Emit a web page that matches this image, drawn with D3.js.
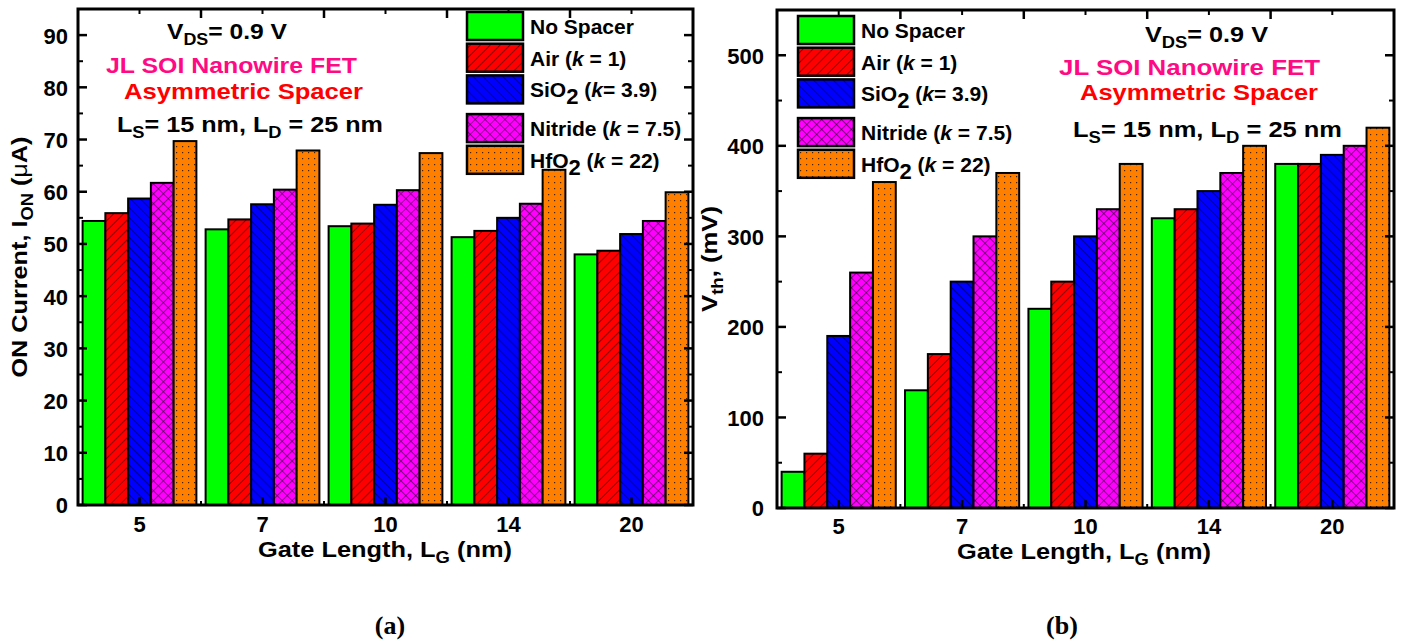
<!DOCTYPE html>
<html>
<head>
<meta charset="utf-8">
<script src="https://cdn.jsdelivr.net/npm/d3@7"></script>
<style>
  body { margin: 0; background: #fff; }
  svg { display: block; }
  text { font-family: "Liberation Sans", Arial, sans-serif; font-weight: bold; fill: #000; }
</style>
</head>
<body>
<svg id="fig" width="1408" height="643"></svg>
<script>
// Gate lengths (nm) on the category axis
const gateLengths = ["5", "7", "10", "14", "20"];

// Spacer materials (one bar per material in every group)
const spacerKeys = ["none", "air", "sio2", "nitride", "hfo2"];

// (a) ON current, µA
const ionNoSpacer = [54.4, 52.8, 53.4, 51.3, 48.0];
const ionAir      = [55.9, 54.7, 53.9, 52.5, 48.7];
const ionSiO2     = [58.7, 57.6, 57.5, 55.0, 51.9];
const ionNitride  = [61.7, 60.4, 60.3, 57.7, 54.4];
const ionHfO2     = [69.7, 67.9, 67.4, 64.2, 59.9];

// (b) threshold voltage, mV
const vthNoSpacer = [40, 130, 220, 320, 380];
const vthAir      = [60, 170, 250, 330, 380];
const vthSiO2     = [190, 250, 300, 350, 390];
const vthNitride  = [260, 300, 330, 370, 400];
const vthHfO2     = [360, 370, 380, 400, 420];

// Axis ticks
const ionTicks = [0, 10, 20, 30, 40, 50, 60, 70, 80, 90];
const vthTicks = [0, 100, 200, 300, 400, 500];

const svg = d3.select("#fig");
const defs = svg.append("defs");

// Fill styles: solid green, "/" hatch red, "\" hatch blue, cross hatch magenta, dotted orange
const fills = {
  none: "#00ff00",
  air: "#ff0000",
  sio2: "#0000ff",
  nitride: "#ff00ff",
  hfo2: "#ff8000"
};

function hatch(id, color, size, paths, angle) {
  const p = defs.append("pattern")
    .attr("id", id)
    .attr("patternUnits", "userSpaceOnUse")
    .attr("width", size).attr("height", size)
    .attr("patternTransform", `rotate(${angle})`);
  p.append("rect").attr("width", size).attr("height", size).attr("fill", color);
  paths.forEach(d => p.append("path").attr("d", d)
    .attr("stroke", "#000").attr("stroke-width", 0.9).attr("fill", "none"));
}
hatch("pat-air", fills.air, 7, ["M0,0 V7"], 45);
hatch("pat-sio2", fills.sio2, 7, ["M0,0 V7"], -45);
hatch("pat-nitride", fills.nitride, 7, ["M0,0 V7", "M0,0 H7"], 45);
{
  const p = defs.append("pattern")
    .attr("id", "pat-hfo2")
    .attr("patternUnits", "userSpaceOnUse")
    .attr("width", 6).attr("height", 6);
  p.append("rect").attr("width", 6).attr("height", 6).attr("fill", fills.hfo2);
  p.append("rect").attr("x", 2).attr("y", 2).attr("width", 1.2).attr("height", 1.2).attr("fill", "#4a2000");
}
const fillUrl = {
  none: fills.none,
  air: "url(#pat-air)",
  sio2: "url(#pat-sio2)",
  nitride: "url(#pat-nitride)",
  hfo2: "url(#pat-hfo2)"
};

// Legend entries
const legendRows = [
  { key: "none", gap: 0, parts: [["No Spacer"]] },
  { key: "air", gap: 0, parts: [["Air "], ["("], ["k", "italic"], [" = 1)"]] },
  { key: "sio2", gap: 0, parts: [["SiO"], ["2", "sub"], [" ("], ["k", "italic"], ["= 3.9)"]] },
  { key: "nitride", gap: 7, parts: [["Nitride "], ["("], ["k", "italic"], [" = 7.5)"]] },
  { key: "hfo2", gap: 0, parts: [["HfO"], ["2", "sub"], [" ("], ["k", "italic"], [" = 22)"]] }
];

function addParts(textSel, parts) {
  let shifted = false;
  parts.forEach(([s, kind]) => {
    const t = textSel.append("tspan").text(s);
    if (kind === "italic") t.attr("font-style", "italic");
    if (kind === "sub") { t.attr("dy", 7).attr("font-size", 22); shifted = true; }
    else if (shifted) { t.attr("dy", -7); shifted = false; }
  });
}

// stretch a label to a given run length
function fit(sel, len) {
  return sel.attr("textLength", len).attr("lengthAdjust", "spacingAndGlyphs");
}

function drawPanel(cfg) {
  const { left, top, right, bottom, yMax, ticks, minorStep, series } = cfg;
  const g = svg.append("g");

  const x = d3.scaleBand().domain(gateLengths).range([left, right])
    .paddingInner(0.075).paddingOuter(0.0375);
  const xs = d3.scaleBand().domain(spacerKeys).range([0, x.bandwidth()]);
  const y = d3.scaleLinear().domain([0, yMax]).range([bottom, top]);

  // bars
  spacerKeys.forEach((k, si) => {
    g.append("g").selectAll("rect")
      .data(series[si].map((v, i) => ({ cat: gateLengths[i], v })))
      .join("rect")
      .attr("x", d => x(d.cat) + xs(k))
      .attr("y", d => y(d.v))
      .attr("width", xs.bandwidth())
      .attr("height", d => y(0) - y(d.v))
      .attr("fill", fillUrl[k])
      .attr("stroke", "#000")
      .attr("stroke-width", 2);
  });

  // ticks
  const step = x.step();
  const centers = gateLengths.map(c => x(c) + x.bandwidth() / 2);
  const bounds = centers.slice(0, -1).map(c => c + step / 2);
  const minor = d3.range(minorStep, yMax + 0.001, minorStep * 2);

  const tk = g.append("g").attr("stroke", "#000").attr("fill", "none");
  ticks.forEach(v => {
    tk.append("line").attr("x1", left).attr("x2", left + 9).attr("y1", y(v)).attr("y2", y(v)).attr("stroke-width", 2.5);
    tk.append("line").attr("x1", right).attr("x2", right - 9).attr("y1", y(v)).attr("y2", y(v)).attr("stroke-width", 2.5);
  });
  minor.forEach(v => {
    tk.append("line").attr("x1", left).attr("x2", left + 5).attr("y1", y(v)).attr("y2", y(v)).attr("stroke-width", 2);
    tk.append("line").attr("x1", right).attr("x2", right - 5).attr("y1", y(v)).attr("y2", y(v)).attr("stroke-width", 2);
  });
  centers.forEach(cx => tk.append("line").attr("x1", cx).attr("x2", cx).attr("y1", bottom).attr("y2", bottom - 8).attr("stroke-width", 2.5));
  bounds.forEach(cx => tk.append("line").attr("x1", cx).attr("x2", cx).attr("y1", bottom).attr("y2", bottom - 4).attr("stroke-width", 2));
  bounds.forEach(cx => tk.append("line").attr("x1", cx).attr("x2", cx).attr("y1", top).attr("y2", top + 9).attr("stroke-width", 2.5));
  centers.forEach(cx => tk.append("line").attr("x1", cx).attr("x2", cx).attr("y1", top).attr("y2", top + 5).attr("stroke-width", 2));

  // frame
  g.append("rect").attr("x", left).attr("y", top)
    .attr("width", right - left).attr("height", bottom - top)
    .attr("fill", "none").attr("stroke", "#000").attr("stroke-width", 3);

  // tick labels
  const yAxis = d3.axisLeft(y).tickValues(ticks).tickSize(0).tickPadding(cfg.yPad);
  const ya = g.append("g").attr("transform", `translate(${left},0)`).call(yAxis);
  ya.select(".domain").remove();
  ya.selectAll("text").attr("font-size", 22).attr("font-family", null).attr("dy", "0.36em");

  const xAxis = d3.axisBottom(x).tickSize(0).tickPadding(0);
  const xa = g.append("g").attr("transform", `translate(0,${bottom})`).call(xAxis);
  xa.select(".domain").remove();
  xa.selectAll("text").attr("font-size", 22).attr("font-family", null).attr("dy", null).attr("y", cfg.xLabelDy);

  // axis titles
  const xt = g.append("text").attr("x", cfg.xTitle[0]).attr("y", cfg.xTitle[1])
    .attr("text-anchor", "middle").attr("font-size", 22);
  xt.append("tspan").text("Gate Length, L");
  xt.append("tspan").text("G").attr("font-size", 16).attr("dy", 6);
  xt.append("tspan").text(" (nm)").attr("dy", -6);
  fit(xt, cfg.xTitle[2]);

  const yt = g.append("text")
    .attr("transform", `translate(${cfg.yTitle[0]},${cfg.yTitle[1]}) rotate(-90)`)
    .attr("text-anchor", "middle").attr("font-size", 22);
  cfg.yTitleParts(yt);
  fit(yt, cfg.yTitle[2]);

  // annotation block
  const ann = cfg.ann;
  const a1 = g.append("text").attr("x", ann[0][0]).attr("y", ann[0][1]).attr("font-size", 22);
  a1.append("tspan").text("V");
  a1.append("tspan").text("DS").attr("font-size", 16).attr("dy", 6);
  a1.append("tspan").text("= 0.9 V").attr("dy", -6);
  fit(a1, ann[0][2]);
  fit(g.append("text").attr("x", ann[1][0]).attr("y", ann[1][1]).attr("font-size", 22)
    .style("fill", "#ff0a84").text("JL SOI Nanowire FET"), ann[1][2]);
  fit(g.append("text").attr("x", ann[2][0]).attr("y", ann[2][1]).attr("font-size", 22)
    .style("fill", "#ff0000").text("Asymmetric Spacer"), ann[2][2]);
  const a4 = g.append("text").attr("x", ann[3][0]).attr("y", ann[3][1]).attr("font-size", 22);
  a4.append("tspan").text("L");
  a4.append("tspan").text("S").attr("font-size", 16).attr("dy", 6);
  a4.append("tspan").text("= 15 nm, L").attr("dy", -6);
  a4.append("tspan").text("D").attr("font-size", 16).attr("dy", 6);
  a4.append("tspan").text(" = 25 nm").attr("dy", -6);
  fit(a4, ann[3][2]);

  // legend
  const lg = g.append("g");
  let ly = cfg.legend[1];
  legendRows.forEach(r => {
    ly += r.gap;
    lg.append("rect").attr("x", cfg.legend[0]).attr("y", ly)
      .attr("width", 56).attr("height", 28)
      .attr("fill", fillUrl[r.key]).attr("stroke", "#000").attr("stroke-width", 2.5);
    const t = lg.append("text").attr("x", cfg.legend[0] + 63).attr("y", ly + 22).attr("font-size", 21);
    addParts(t, r.parts);
    ly += 31.7;
  });

  // panel tag
  svg.append("text").attr("x", cfg.tag[0]).attr("y", cfg.tag[1])
    .attr("text-anchor", "middle")
    .style("font-family", "'Liberation Serif', 'Times New Roman', serif")
    .attr("font-size", 26).text(cfg.tag[2]);
}

drawPanel({
  left: 78, top: 9, right: 693, bottom: 505,
  yMax: 95, ticks: ionTicks, minorStep: 5,
  series: [ionNoSpacer, ionAir, ionSiO2, ionNitride, ionHfO2],
  yPad: 10, xLabelDy: 27,
  xTitle: [385, 557, 254],
  yTitle: [27, 257, 241],
  yTitleParts: t => {
    t.append("tspan").text("ON Current, I");
    t.append("tspan").text("ON").attr("font-size", 16).attr("dy", 6);
    t.append("tspan").text(" (").attr("dy", -6);
    t.append("tspan").text("μ").attr("font-weight", "normal");
    t.append("tspan").text("A)");
  },
  ann: [[167, 39, 120], [106, 73, 251], [124, 99, 239], [117, 132, 266]],
  legend: [467, 12],
  tag: [390, 634, "(a)"]
});

drawPanel({
  left: 777, top: 10, right: 1394, bottom: 508,
  yMax: 550, ticks: vthTicks, minorStep: 50,
  series: [vthNoSpacer, vthAir, vthSiO2, vthNitride, vthHfO2],
  yPad: 13, xLabelDy: 26,
  xTitle: [1084, 559, 254],
  yTitle: [717, 259, 106],
  yTitleParts: t => {
    t.append("tspan").text("V");
    t.append("tspan").text("th").attr("font-size", 16).attr("dy", 6);
    t.append("tspan").text(", (mV)").attr("dy", -6);
  },
  ann: [[1145, 42, 123], [1059, 75, 261], [1080, 100, 238], [1073, 137, 269]],
  legend: [798, 16],
  tag: [1062, 634, "(b)"]
});
</script>
</body>
</html>
